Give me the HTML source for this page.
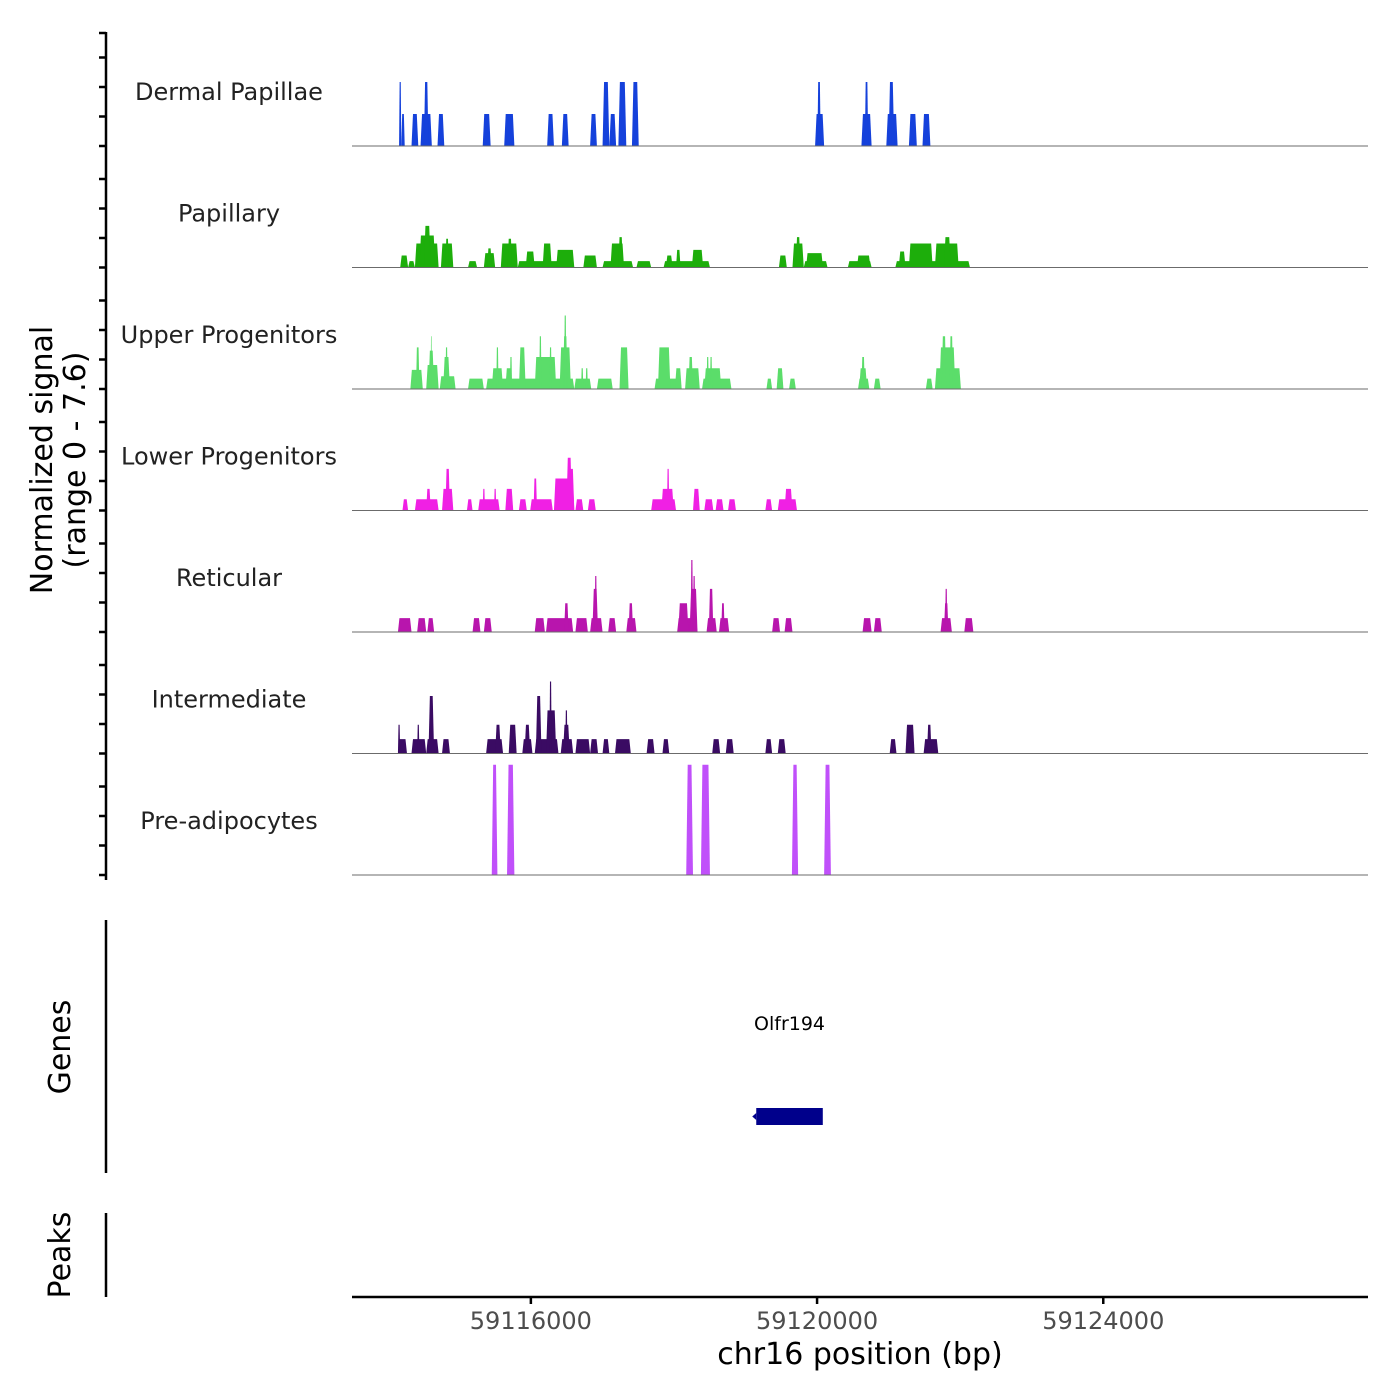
<!DOCTYPE html>
<html><head><meta charset="utf-8">
<style>
html,body{margin:0;padding:0;background:#fff;}
svg{display:block;font-family:"DejaVu Sans","Liberation Sans",sans-serif;}
</style></head>
<body>
<svg id="chart" width="1400" height="1400" viewBox="0 0 1400 1400" xmlns="http://www.w3.org/2000/svg">
<g id="tracks"></g>
<g id="axes"></g>
</svg>
<script>
// ---- data ----
const regionStart = 59113500;
const regionEnd = 59127700;
const dataStart = 59113431; // first bin start (bp)
const binSize = 15.8; // bp per bin
const yMax = 7.6;
const trackNames = ["Dermal Papillae","Papillary","Upper Progenitors","Lower Progenitors","Reticular","Intermediate","Pre-adipocytes"];
const trackColors = ["#1541DB","#1DAE0B","#5BDD6A","#F020E4","#B815AD","#3A0B63","#C050FA"];
// segments: [startBin, endBin, value]
const dermalPapillae = [[46,48,4],[48,51,2],[57,63,2],[65,75,2],[68,72,4],[80,86,2],[120,127,2],[139,148,2],[177,183,2],[190,196,2],[215,221,2],[226,232,4],[232,238,2],[240,247,4],[252,258,4],[414,422,2],[416,419,4],[455,464,2],[458,461,4],[477,487,2],[479,484,4],[497,504,2],[509,516,2]];
const papillary = [[47,54,0.75],[54,60,0.4],[60,81,1.5],[64,78,2],[68,74,2.6],[83,94,1.5],[87,90,1.8],[107,115,0.4],[121,131,0.9],[124,128,1.2],[136,151,1.5],[142,146,1.8],[151,201,0.4],[158,166,1],[173,181,1.5],[185,201,1.1],[209,221,0.75],[226,253,0.4],[233,245,1.5],[240,244,1.9],[256,269,0.4],[280,321,0.4],[282,288,0.75],[291,295,1.1],[305,315,1.1],[382,389,0.75],[394,404,1.5],[397,401,1.9],[404,425,0.4],[406,421,0.9],[443,464,0.4],[451,463,0.75],[485,551,0.4],[488,494,1],[497,518,1.5],[520,541,1.5],[528,534,1.9]];
const upperProgenitors = [[56,67,1.2],[61,64,2.6],[70,81,1.5],[72,77,2.4],[74,75,3.3],[82,96,0.8],[85,91,2],[87,89,2.6],[107,121,0.65],[123,201,0.65],[128,138,1.3],[132,134,2.6],[140,146,1.3],[144,146,2],[152,158,2.6],[166,185,2],[170,172,3.3],[179,181,2.6],[188,198,2.6],[191,195,3.3],[192,194,4.6],[201,216,0.65],[207,209,1.3],[211,213,1.3],[221,235,0.65],[241,249,2.6],[272,296,0.65],[275,286,2.6],[290,296,1.3],[299,312,1.3],[302,306,2],[314,340,0.65],[316,331,1.3],[318,320,2],[321,323,2],[371,376,0.65],[380,386,1.3],[391,397,0.65],[452,462,0.65],[453,460,1.3],[455,458,2],[466,472,0.65],[512,518,0.65],[520,543,1.3],[524,538,2.6],[526,530,3.3],[533,536,3.3]];
const lowerProgenitors = [[49,54,0.7],[60,81,0.7],[70,74,1.35],[84,94,1.35],[87,91,2.6],[106,111,0.7],[116,135,0.7],[120,122,1.35],[130,132,1.35],[140,147,1.35],[152,159,0.7],[162,182,0.7],[165,168,2],[183,201,2],[194,199,3.3],[196,201,2.6],[202,209,0.7],[213,220,0.7],[269,291,0.7],[278,289,1.35],[283,285,2.6],[306,312,1.35],[316,324,0.7],[326,333,0.7],[337,344,0.7],[370,376,0.7],[381,398,0.7],[387,394,1.35]];
const reticular = [[45,57,0.87],[62,70,0.87],[71,77,0.87],[111,118,0.87],[121,128,0.87],[166,175,0.87],[176,200,0.87],[192,196,1.8],[202,213,0.87],[215,226,0.87],[217,222,2.7],[219,221,3.5],[231,238,0.87],[247,256,0.87],[249,253,1.8],[292,310,0.87],[293,302,1.8],[303,310,2.7],[304,306,4.5],[306,308,3.5],[318,327,0.87],[320,324,2.7],[329,338,0.87],[331,334,1.8],[376,383,0.87],[387,394,0.87],[456,464,0.87],[466,473,0.87],[525,535,0.87],[528,532,1.8],[529,531,2.7],[546,554,0.87]];
const intermediate = [[45,53,0.9],[45,47,1.8],[57,70,0.9],[62,64,1.8],[70,81,0.9],[72,77,3.6],[84,91,0.9],[123,138,0.9],[131,136,1.8],[143,150,1.8],[155,164,0.9],[157,162,1.8],[166,187,0.9],[167,172,3.6],[176,185,2.7],[179,181,4.5],[189,200,0.9],[191,197,1.8],[193,195,2.7],[202,215,0.9],[215,222,0.9],[226,232,0.9],[237,251,0.9],[265,272,0.9],[279,285,0.9],[323,330,0.9],[335,342,0.9],[370,376,0.9],[381,388,0.9],[480,486,0.9],[494,502,1.8],[510,523,0.9],[513,517,1.8]];
const preAdipocytes = [[128,133,6.9],[141.5,148,6.9],[300,306,6.9],[313,321,6.9],[393.5,399,6.9],[422,428,6.9]];
const xTicks = [59116000,59120000,59124000];
const geneName = "Olfr194";
const geneStart = 59119150;
const geneEnd = 59120080;

// ---- scales ----
const plotL = 352, plotR = 1368;
function x(bp){ return plotL + (bp - regionStart) / (regionEnd - regionStart) * (plotR - plotL); }
function binX(b){ return x(dataStart + b*binSize); }
const firstBase = 146, trackH = 121.5;
function base(i){ return firstBase + i*trackH; }
function y(i, v){ return base(i) - v / yMax * trackH; }

const NS = "http://www.w3.org/2000/svg";
function mk(tag, attrs, parent){ const e=document.createElementNS(NS,tag); for(const k in attrs) e.setAttribute(k,attrs[k]); parent.appendChild(e); return e; }
const gT = document.getElementById('tracks');
const gA = document.getElementById('axes');
const series = [dermalPapillae,papillary,upperProgenitors,lowerProgenitors,reticular,intermediate,preAdipocytes];

series.forEach((segs, i) => {
  const g = mk('g', {}, gT);
  
  
  segs.slice().sort((a,b)=>a[2]-b[2]).forEach(s => {
    const x0 = binX(s[0]), x1 = binX(s[1]);
    const sl = Math.min(1.5, (x1-x0)/4);
    const b = base(i), t = y(i, s[2]);
    const p = mk('polygon', {points:`${x0},${b} ${x0+sl},${t} ${x1-sl},${t} ${x1},${b}`, fill:trackColors[i]}, g);
    
    
  });
  const bl = mk('line', {x1:plotL, x2:plotR, y1:base(i), y2:base(i), stroke:'#6b6b6b', 'stroke-width':1}, g);
  
  
  const lb = mk('text', {x:229, y:base(i)-46, 'text-anchor':'middle', 'font-size':24, fill:'#222'}, g);
  lb.textContent = trackNames[i];
  
  
});

// left signal axis
mk('line', {x1:106,x2:106,y1:32,y2:880,stroke:'#000','stroke-width':2.5}, gA);
for (let i=0;i<7;i++){
  for (let k=0;k<4;k++){
    const ty = base(i) - k*29.5;
    const t = mk('line', {x1:99,x2:106,y1:ty,y2:ty,stroke:'#000','stroke-width':2.5}, gA);
    
    
  }
}
mk('line', {x1:99,x2:106,y1:33,y2:33,stroke:'#000','stroke-width':2.5}, gA);
const yt = mk('text', {transform:'translate(52,460) rotate(-90)','text-anchor':'middle','font-size':30,fill:'#000'}, gA);


yt.innerHTML = '<tspan x="0" dy="0">Normalized signal</tspan><tspan x="0" dy="33">(range 0 - 7.6)</tspan>';

// genes
mk('line', {x1:106,x2:106,y1:920,y2:1173,stroke:'#000','stroke-width':2.5}, gA);
const gt = mk('text', {transform:'translate(70,1047) rotate(-90)','text-anchor':'middle','font-size':30,fill:'#000'}, gA);
gt.textContent = 'Genes';


const gl = mk('text', {x:(x(geneStart)+x(geneEnd))/2, y:1030, 'text-anchor':'middle','font-size':19,fill:'#000'}, gA);
gl.textContent = geneName;


const gb = mk('rect', {x:x(geneStart), y:1108, width:x(geneEnd)-x(geneStart), height:17, fill:'#00008B'}, gA);


const ga = mk('polygon', {points:`${x(geneStart)-4},1116.5 ${x(geneStart)},1113 ${x(geneStart)},1120`, fill:'#00008B'}, gA);



// peaks
mk('line', {x1:106,x2:106,y1:1213,y2:1297,stroke:'#000','stroke-width':2.5}, gA);
const pt = mk('text', {transform:'translate(70,1255) rotate(-90)','text-anchor':'middle','font-size':30,fill:'#000'}, gA);
pt.textContent = 'Peaks';



// x axis
const xa = mk('line', {x1:plotL,x2:plotR,y1:1297,y2:1297,stroke:'#000','stroke-width':2.5}, gA);


xTicks.forEach(v => {
  const t = mk('line', {x1:x(v),x2:x(v),y1:1297,y2:1304,stroke:'#000','stroke-width':2.5}, gA);
  
  
  const l = mk('text', {x:x(v), y:1329, 'text-anchor':'middle','font-size':24,fill:'#4d4d4d'}, gA);
  l.textContent = v;
  
  
});
const xt = mk('text', {x:860, y:1364, 'text-anchor':'middle','font-size':30,fill:'#000'}, gA);
xt.textContent = 'chr16 position (bp)';


</script>
</body></html>
